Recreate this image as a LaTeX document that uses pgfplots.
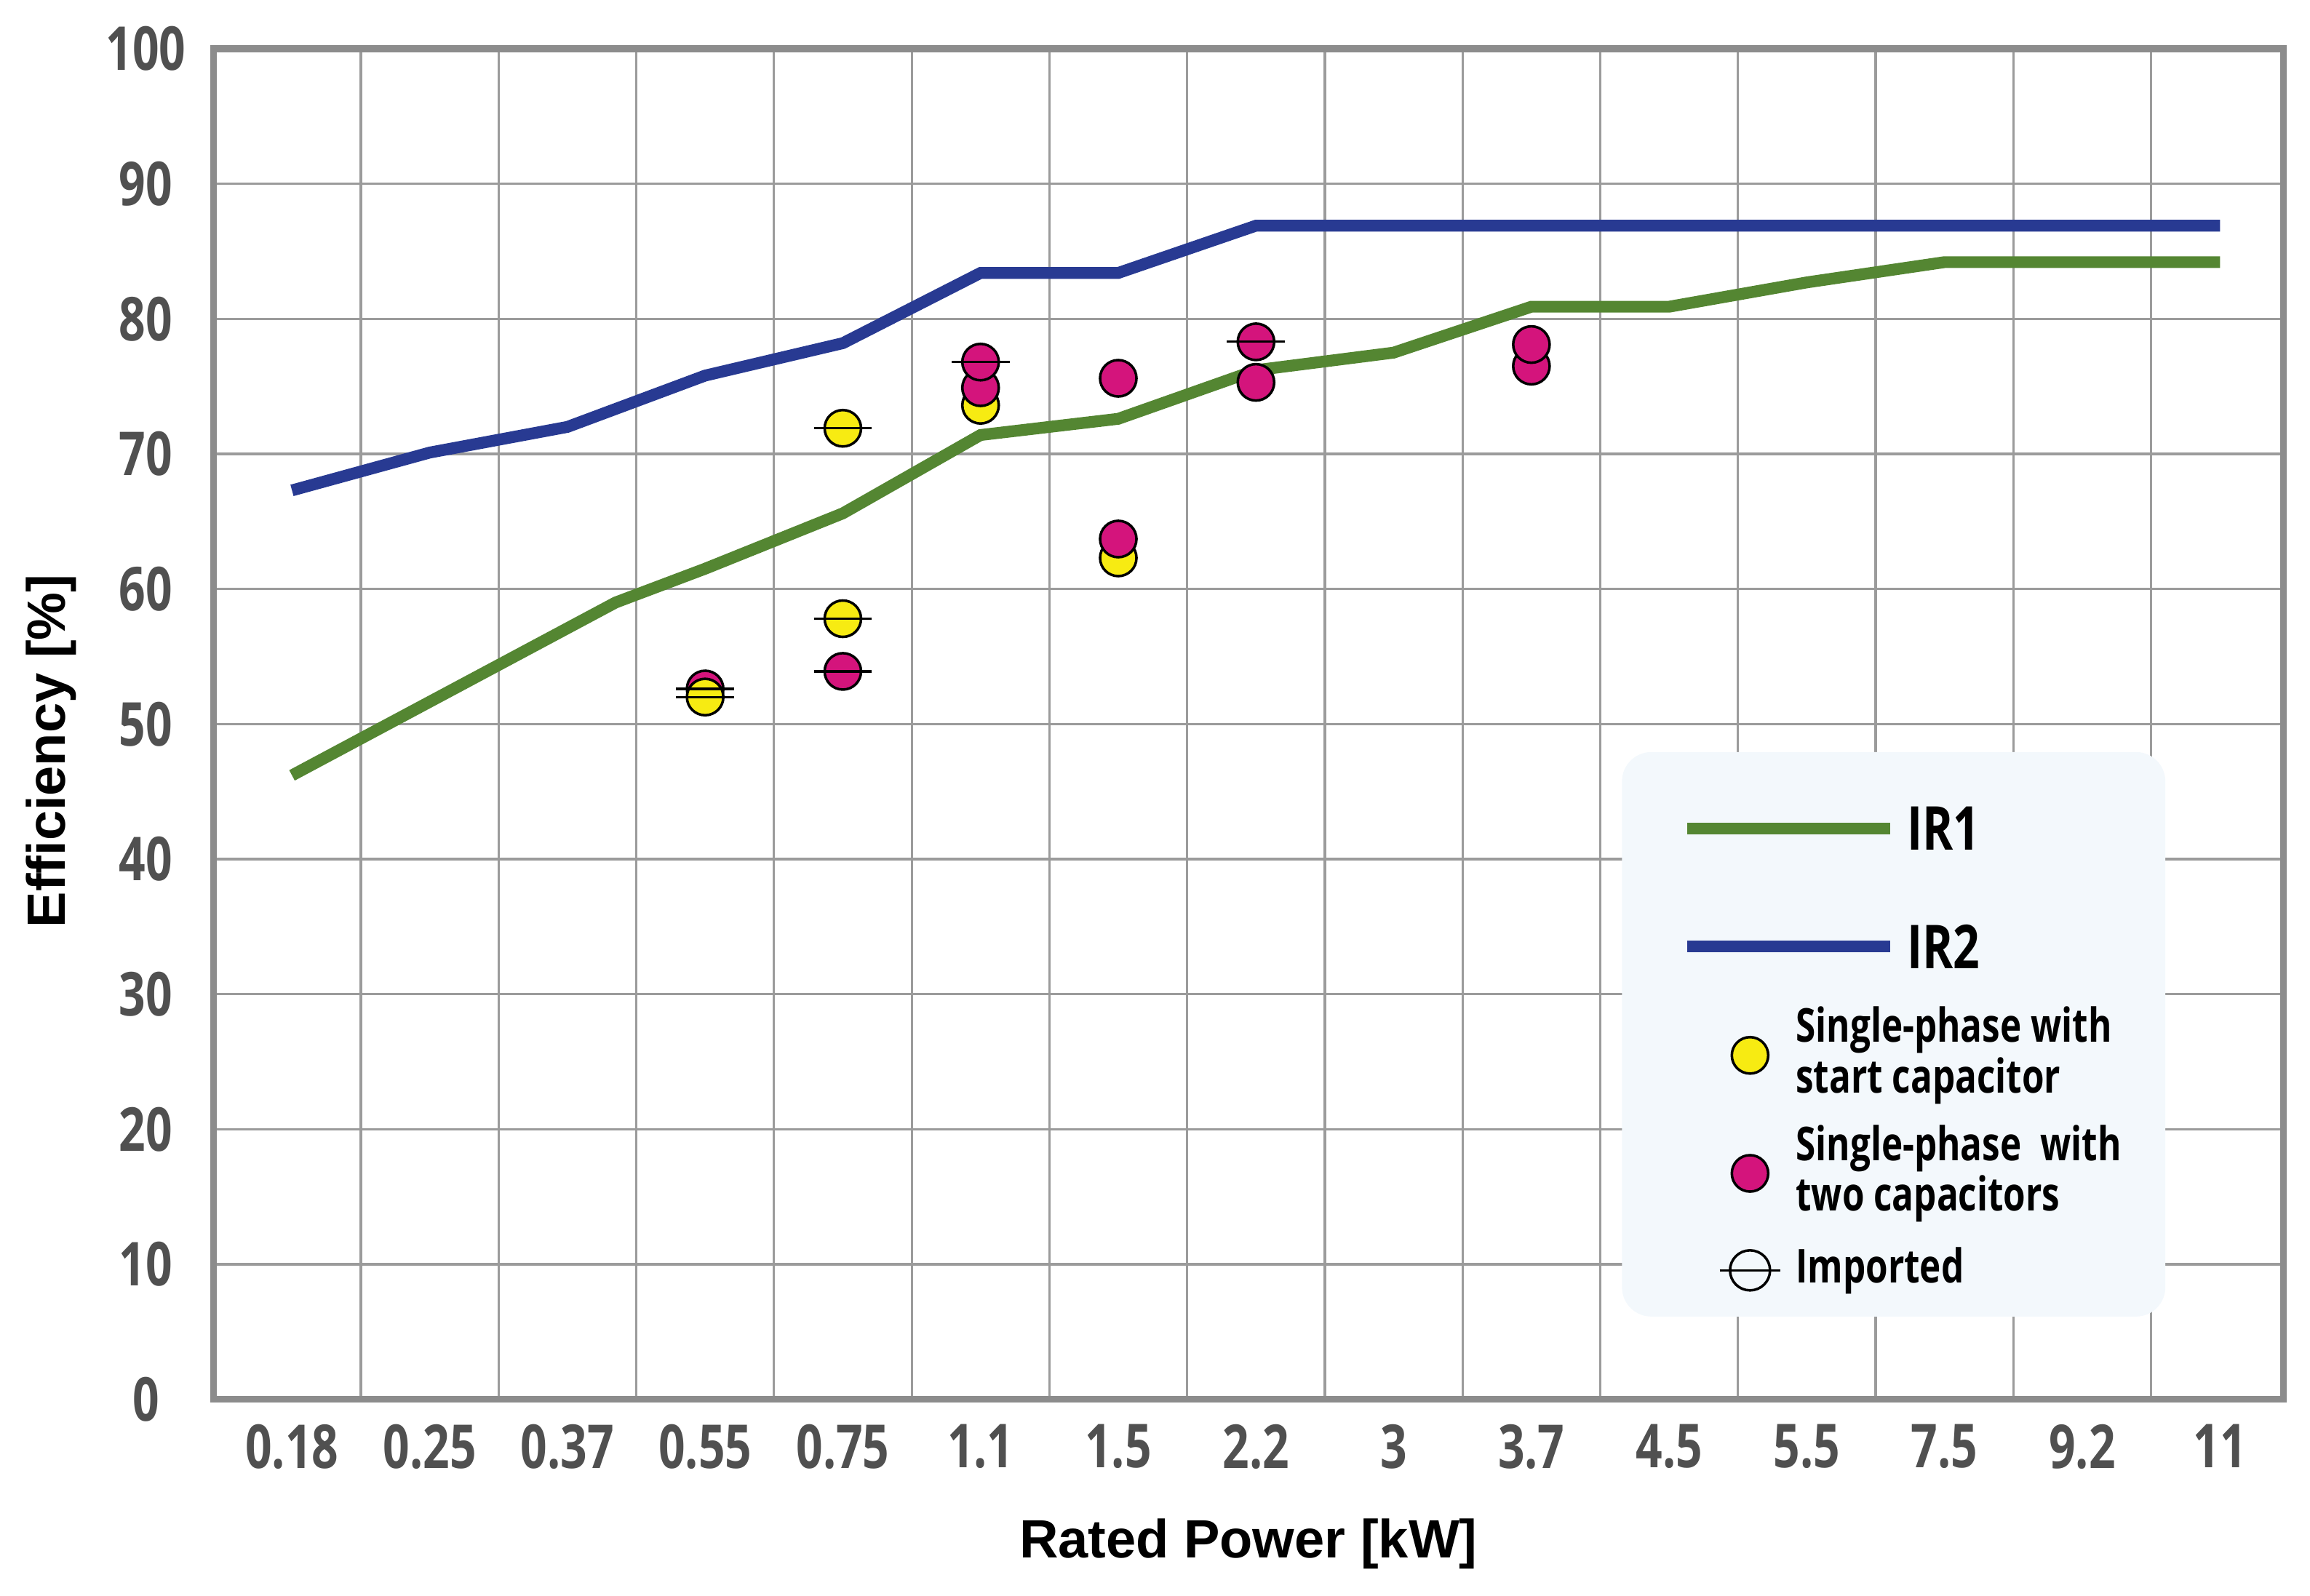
\documentclass[border=0pt]{standalone}
\usepackage{fontspec}
\usepackage{pgfplots}
\pgfplotsset{compat=1.18}
\newfontfamily\condfont{Open Sans}[FakeStretch=0.77]
\newfontfamily\labfont{Liberation Sans}
\definecolor{irgreen}{RGB}{84,134,50}
\definecolor{irblue}{RGB}{40,58,146}
\definecolor{ptyellow}{RGB}{247,235,18}
\definecolor{ptmag}{RGB}{212,20,124}
\definecolor{gridc}{RGB}{155,155,155}
\definecolor{framec}{RGB}{140,140,140}
\definecolor{tickc}{RGB}{80,80,80}
\definecolor{legbg}{RGB}{243,248,252}
% one legend row: fixed height, text centred in it
\newcommand{\lgrow}[2]{\parbox[c][#1][c]{64pt}{#2}}
\pgfplotsset{
  lineleg/.style={legend image code/.code={\draw[overlay,##1] (-12.3pt,0pt) -- (27.3pt,0pt); \path (-15.8pt,0pt) (3.8pt,0pt);}},
  dotleg/.style={legend image code/.code={\path (-15.8pt,0pt) (3.8pt,0pt); \draw[black,line width=0.5pt,fill=#1] (0pt,0pt) circle (3.55pt);}},
}
\begin{document}
\begin{tikzpicture}
\begin{axis}[
  scale only axis, width=403.3pt, height=263.2pt,
  xmin=-0.57, xmax=14.46, ymin=0, ymax=100,
  xtick={0,...,14},
  xticklabels={0.18,0.25,0.37,0.55,0.75,1.1,1.5,2.2,3,3.7,4.5,5.5,7.5,9.2,11},
  minor xtick={0.5,1.5,...,13.5},
  ytick={0,10,...,100},
  xminorgrids=true, ymajorgrids=true,
  grid style={draw=gridc, line width=0.45pt},
  minor grid style={draw=gridc, line width=0.45pt},
  major tick length=0pt, minor tick length=0pt,
  axis line style={draw=framec, line width=1.3pt},
  /pgf/number format/assume math mode=true,
  tick label style={font=\condfont\bfseries\fontsize{11.8}{12}\selectfont, text=tickc},
  yticklabel style={anchor=center, xshift=-13.2pt},
  xticklabel style={yshift=-1.3pt},
  xlabel={Rated Power [kW]}, ylabel={Efficiency [\%]},
  label style={font=\labfont\bfseries\fontsize{10.5}{12}\selectfont, text=black},
  xlabel style={at={(axis description cs:0.5,-0.1068)}, anchor=center},
  ylabel style={at={(axis description cs:-0.0784,0.48)}, anchor=center},
  legend cell align=left,
  legend style={at={(0.68,0.48)}, anchor=north west, fill=legbg, draw=none,
    rounded corners=5.7pt, inner xsep=8pt, inner ysep=2.5pt, row sep=0pt,
    font=\condfont\bfseries, text=black,
    nodes={inner sep=0pt, anchor=west, text depth=},
    /tikz/every odd column/.append style={column sep=2.8pt}},
]
% IR1
\addplot[irgreen, line width=2.3pt, lineleg] coordinates {
  (0,46.2) (2.35,59.0) (3,61.5) (4,65.6) (5,71.4) (6,72.6) (7,76.2) (8,77.5)
  (9,80.9) (10,80.9) (11,82.7) (12,84.2) (13,84.2) (14,84.2)};
\addlegendentry{\lgrow{24.8pt}{\hspace*{21.7pt}\fontsize{11.8}{12}\selectfont IR1}}
% IR2
\addplot[irblue, line width=2.3pt, lineleg] coordinates {
  (0,67.3) (1,70.1) (2,72.0) (3,75.8) (4,78.2) (5,83.4) (6,83.4) (7,86.9)
  (8,86.9) (9,86.9) (10,86.9) (11,86.9) (12,86.9) (13,86.9) (14,86.9)};
\addlegendentry{\lgrow{21.2pt}{\hspace*{21.7pt}\fontsize{11.8}{12}\selectfont IR2}}
% two capacitors, lying under a yellow one
\addplot[only marks, mark=*, mark size=3.55pt, mark options={draw=black, fill=ptmag, line width=0.5pt}, forget plot]
  coordinates {(3,52.6)};
% start capacitor
\addplot[only marks, mark=*, mark size=3.55pt, mark options={draw=black, fill=ptyellow, line width=0.5pt}, dotleg=ptyellow]
  coordinates {(3,52.0) (4,71.9) (4,57.8) (5,73.6) (6,62.3)};
\addlegendentry{\lgrow{21.2pt}{\fontsize{9.1}{9.8}\selectfont\mbox{Single-phase with}\\\mbox{start capacitor}}}
% two capacitors
\addplot[only marks, mark=*, mark size=3.55pt, mark options={draw=black, fill=ptmag, line width=0.5pt}, dotleg=ptmag]
  coordinates {(4,53.9) (5,74.9) (5,76.8) (6,75.6) (6,63.7) (7,78.3) (7,75.3) (9,76.5) (9,78.1)};
\addlegendentry{\lgrow{24.8pt}{\fontsize{9.1}{9.8}\selectfont\mbox{Single-phase\ \ with}\\\mbox{two capacitors}}}
% imported
\addplot[only marks, mark=-, mark size=5.65pt, mark options={draw=black, line width=0.45pt}, forget plot]
  coordinates {(3,52.6) (3,52.0) (4,71.9) (4,57.8) (4,53.9) (5,76.8) (7,78.3)};
\addlegendimage{legend image code/.code={\path (-15.8pt,0pt) (3.8pt,0pt);
  \draw[black,line width=0.5pt] (0pt,0pt) circle (3.9pt);
  \draw[black,line width=0.45pt] (-5.9pt,0pt) -- (5.9pt,0pt);}}
\addlegendentry{\lgrow{13pt}{\fontsize{9.1}{9.8}\selectfont Imported}}
\end{axis}
\path ([xshift=-41.6pt,yshift=-38.2pt]current axis.south west) rectangle ([xshift=5.2pt,yshift=9.5pt]current axis.north east);
\end{tikzpicture}
\end{document}
